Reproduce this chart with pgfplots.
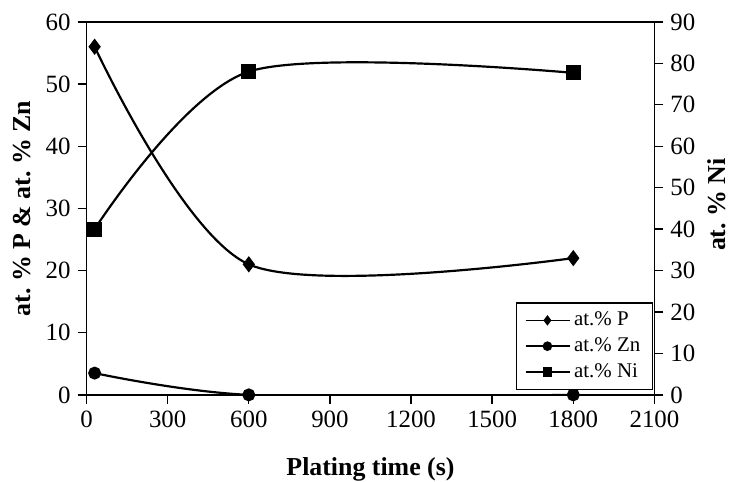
\documentclass[border=0pt]{standalone}
\usepackage{fontspec}
\setmainfont{Liberation Serif}
\usepackage{pgfplots}
\pgfplotsset{compat=1.18}

\pgfplotsset{
  base/.style={
    width=285.5pt, height=187.5pt, scale only axis,
    xmin=0, xmax=2100, xtick={0,300,...,2100},
    tick align=outside, major tick length=4.5pt,
    /pgf/number format/assume math mode=true,
    /pgf/number format/1000 sep={},
    tick label style={font=\fontsize{12.5}{14}\selectfont},
    label style={font=\fontsize{13}{15}\selectfont\bfseries},
    axis line style={line width=0.7pt},
    tick style={black, line width=0.7pt},
    clip mode=individual,
  },
  pstyle/.style={black, line width=1.1pt, smooth, mark=diamond*, mark size=3.2pt},
  znstyle/.style={black, line width=1.1pt, smooth, mark=*, mark size=2.7pt},
  nistyle/.style={black, line width=1.1pt, smooth, mark=square*, mark size=3.2pt},
}

\begin{document}
\frenchspacing
\begin{tikzpicture}
\begin{axis}[base, name=ax,
    xtick pos=bottom, ytick pos=left,
    ymin=0, ymax=60, ytick={0,10,...,60},
    xlabel={Plating time (s)},
    ylabel={at. \% P \& at. \% Zn},
    xlabel style={at={(axis description cs:0.5,-0.2)}, anchor=center},
    ylabel style={at={(axis description cs:-0.114,0.5)}, anchor=center},
  ]
\addplot[pstyle] coordinates {(30,56) (600,21) (1800,22)};
\addplot[znstyle] coordinates {(30,3.5) (600,0) (1800,0)};
\end{axis}

\begin{axis}[base,
    axis x line=none, axis y line*=right,
    ymin=0, ymax=90, ytick={0,10,...,90},
    ylabel={at. \% Ni},
    ylabel style={at={(axis description cs:1.11,0.51)}, anchor=center},
    legend style={at={(0.997,0.013)}, anchor=south east,
      font=\fontsize{10.5}{12.5}\selectfont, draw=black, line width=0.6pt,
      inner xsep=4pt, inner ysep=2.5pt,
      cells={anchor=west}, row sep=0.5pt},
    legend image code/.code={
      \draw[mark repeat=2, mark phase=2, #1] plot coordinates {(0pt,0pt) (11pt,0pt) (22pt,0pt)};},
    legend image post style={mark size=2pt, line width=0.8pt},
  ]
\addlegendimage{pstyle}
\addlegendentry{at.\% P}
\addlegendimage{znstyle}
\addlegendentry{at.\% Zn}
\addplot[nistyle] coordinates {(30,40) (600,78) (1800,77.7)};
\addlegendentry{at.\% Ni}
\end{axis}

\pgfresetboundingbox
\path[use as bounding box] ([shift={(-43.5pt,-43.5pt)}]ax.south west) rectangle ([shift={(41pt,11pt)}]ax.north east);
\end{tikzpicture}
\end{document}
